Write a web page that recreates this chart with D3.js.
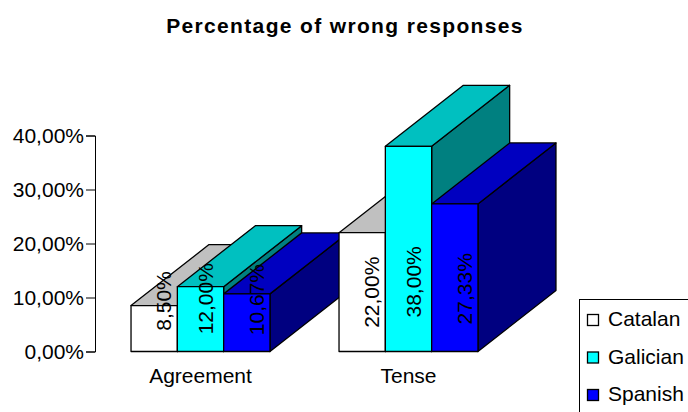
<!DOCTYPE html>
<html>
<head>
<meta charset="utf-8">
<script src="https://cdn.jsdelivr.net/npm/d3@7"></script>
<style>
  html, body { margin: 0; padding: 0; background: white; overflow: hidden; }
  text { font-family: "Liberation Sans", Arial, sans-serif; fill: black; }
</style>
</head>
<body>
<svg id="chart" width="688" height="412"></svg>
<script>
// Valeurs.
const categories = ["Agreement", "Tense"];
const seriesNames = ["Catalan", "Galician", "Spanish"];
const catalanValues = [8.5, 22];
const galicianValues = [12, 38];
const spanishValues = [10.67, 27.33];
const yTicks = [0, 10, 20, 30, 40];

const seriesValues = [catalanValues, galicianValues, spanishValues];
const frontColors = ["#ffffff", "#00ffff", "#0000ff"];
const topColors = ["#c0c0c0", "#00c0c0", "#0000c0"];
const sideColors = ["#808080", "#008080", "#000080"];

// Decalage de la profondeur 3D.
const depthX = 78;
const depthY = 61;
const fontSize = 21;

const svg = d3.select("#chart");

const x = d3.scaleBand()
    .domain(categories)
    .range([96.5, 512.5])
    .paddingInner(0.332)
    .paddingOuter(0.166);

const xSeries = d3.scaleBand()
    .domain(seriesNames)
    .range([0, x.bandwidth()]);

const y = d3.scaleLinear()
    .domain([0, 40])
    .range([351.5, 135.5]);

function formatPercent(value) {
    return d3.format(".2f")(value).replace(".", ",") + "%";
}

svg.append("text")
    .attr("x", 345)
    .attr("y", 33)
    .attr("text-anchor", "middle")
    .attr("font-size", 21)
    .attr("font-weight", "bold")
    .attr("letter-spacing", 1.35)
    .text("Percentage of wrong responses");

const yAxis = svg.append("g")
    .attr("transform", "translate(95,0)")
    .call(d3.axisLeft(y).tickValues(yTicks).tickSize(9).tickPadding(2).tickFormat(formatPercent));
yAxis.selectAll("text").attr("font-size", fontSize).attr("font-family", null);
yAxis.selectAll("line, path").attr("stroke", "black").attr("stroke-width", 1);

const xAxis = svg.append("g")
    .attr("transform", "translate(0,368)")
    .call(d3.axisBottom(x).tickSize(0).tickPadding(0));
xAxis.select(".domain").remove();
xAxis.selectAll("text").attr("font-size", fontSize).attr("font-family", null);

// Les barres sont dessinees de l'arriere vers l'avant : groupe puis serie.
const bars = [];
categories.forEach(function(category, c) {
    seriesNames.forEach(function(name, s) {
        bars.push({ category: category, name: name, s: s, value: seriesValues[s][c] });
    });
});

const barGroups = svg.selectAll(".bar")
    .data(bars)
    .enter()
    .append("g")
    .attr("class", "bar")
    .attr("stroke", "black")
    .attr("stroke-width", 1.3)
    .attr("stroke-linejoin", "round");

function barBox(d) {
    const left = x(d.category) + xSeries(d.name);
    return { left: left, right: left + xSeries.bandwidth(), top: y(d.value), bottom: y(0) };
}

barGroups.append("polygon")
    .attr("fill", function(d) { return sideColors[d.s]; })
    .attr("points", function(d) {
        const b = barBox(d);
        return [[b.right, b.top], [b.right + depthX, b.top - depthY],
            [b.right + depthX, b.bottom - depthY], [b.right, b.bottom]].join(" ");
    });

barGroups.append("polygon")
    .attr("fill", function(d) { return topColors[d.s]; })
    .attr("points", function(d) {
        const b = barBox(d);
        return [[b.left, b.top], [b.left + depthX, b.top - depthY],
            [b.right + depthX, b.top - depthY], [b.right, b.top]].join(" ");
    });

barGroups.append("rect")
    .attr("fill", function(d) { return frontColors[d.s]; })
    .attr("x", function(d) { return barBox(d).left; })
    .attr("y", function(d) { return barBox(d).top; })
    .attr("width", xSeries.bandwidth())
    .attr("height", function(d) { return y(0) - y(d.value); });

// Etiquettes verticales, au-dessus de toutes les barres.
const labelShiftBySeries = [9, 5, 10];

svg.selectAll(".value-label")
    .data(bars)
    .enter()
    .append("text")
    .attr("class", "value-label")
    .attr("font-size", fontSize)
    .attr("text-anchor", "middle")
    .attr("dominant-baseline", "central")
    .attr("transform", function(d) {
        const b = barBox(d);
        const cx = (b.left + b.right) / 2 + labelShiftBySeries[d.s];
        const cy = y(d.value * 0.12) - 45;
        return "translate(" + cx + "," + cy + ") rotate(-90)";
    })
    .text(function(d) { return formatPercent(d.value); });

// Legende, coupee par le bord de l'image comme sur l'original.
const legend = svg.append("g").attr("transform", "translate(579.5,299.5)");

legend.append("rect")
    .attr("width", 130)
    .attr("height", 130)
    .attr("fill", "white")
    .attr("stroke", "black");

const legendRows = legend.selectAll(".legend-row")
    .data(seriesNames)
    .enter()
    .append("g")
    .attr("class", "legend-row")
    .attr("transform", function(d, i) {
        return "translate(0," + (20.5 + i * 37.5) + ")";
    });

legendRows.append("rect")
    .attr("x", 8)
    .attr("y", -5.5)
    .attr("width", 11)
    .attr("height", 11)
    .attr("fill", function(d, i) { return frontColors[i]; })
    .attr("stroke", "black")
    .attr("stroke-width", 1.3);

legendRows.append("text")
    .attr("x", 28.5)
    .attr("y", -1.5)
    .attr("dominant-baseline", "central")
    .attr("font-size", fontSize)
    .text(function(d) { return d; });
</script>
</body>
</html>
